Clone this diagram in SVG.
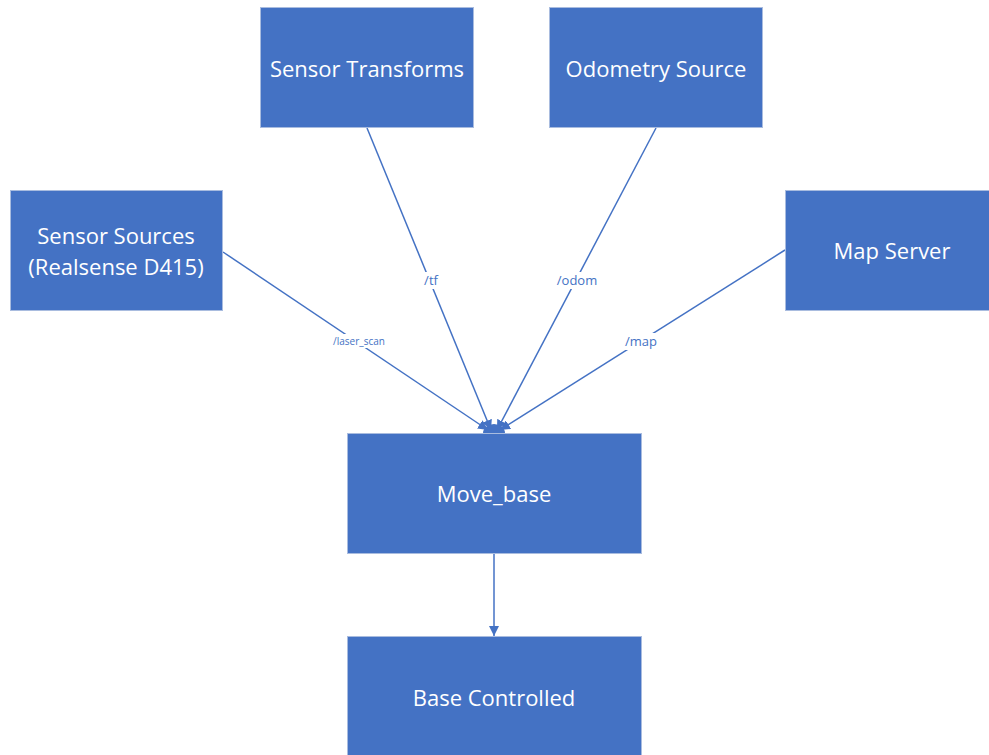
<svg xmlns="http://www.w3.org/2000/svg" width="989" height="755" viewBox="0 0 989 755">
<style>
.box{fill:#4472C4;stroke:#A9BCDF;stroke-width:1}
.t{font-family:"Open Sans","Liberation Sans",sans-serif;font-size:22px;fill:#fff;text-anchor:middle;dominant-baseline:central}
.c{stroke:#4472C4;stroke-width:1.5;fill:none}
.lbl{font-family:"Open Sans","Liberation Sans",sans-serif;fill:#4472C4;text-anchor:middle;dominant-baseline:central}
</style>
<defs>
<marker id="ah" viewBox="0 0 10 10" refX="10" refY="5" markerWidth="10" markerHeight="10" orient="auto" markerUnits="userSpaceOnUse">
<path d="M0,0 L10,5 L0,10 z" fill="#4472C4"/>
</marker>
</defs>
<rect width="989" height="755" fill="#fff"/>
<g id="connectors">
<line class="c" x1="223" y1="252" x2="488" y2="430" marker-end="url(#ah)"/>
<line class="c" x1="367" y1="128" x2="491" y2="430" marker-end="url(#ah)"/>
<line class="c" x1="656" y1="128" x2="497" y2="430" marker-end="url(#ah)"/>
<line class="c" x1="785" y1="250" x2="500" y2="430" marker-end="url(#ah)"/>
<path d="M483,433 A11,9 0 0 1 505,433 Z" fill="#4472C4"/>
<line class="c" x1="494" y1="553" x2="494" y2="636" marker-end="url(#ah)"/>
<rect x="330" y="334" width="60" height="14" fill="#fff"/>
<text class="lbl" x="359" y="341" font-size="10">/laser_scan</text>
<rect x="420" y="272" width="22" height="17" fill="#fff"/>
<text class="lbl" x="431" y="280" font-size="13">/tf</text>
<rect x="556" y="272" width="42" height="17" fill="#fff"/>
<text class="lbl" x="577" y="280" font-size="13">/odom</text>
<rect x="623" y="333" width="36" height="17" fill="#fff"/>
<text class="lbl" x="641" y="341" font-size="13">/map</text>
</g>
<g id="sensor-transforms"><rect class="box" x="260.5" y="7.5" width="213" height="120"/><text class="t" x="367" y="68">Sensor Transforms</text></g>
<g id="odometry-source"><rect class="box" x="549.5" y="7.5" width="213" height="120"/><text class="t" x="656" y="68">Odometry Source</text></g>
<g id="sensor-sources"><rect class="box" x="10.5" y="190.5" width="212" height="120"/><text class="t" x="116" y="235">Sensor Sources</text><text class="t" x="116" y="266">(Realsense D415)</text></g>
<g id="map-server"><rect class="box" x="785.5" y="190.5" width="210" height="120"/><text class="t" x="892" y="250">Map Server</text></g>
<g id="move-base"><rect class="box" x="347.5" y="433.5" width="294" height="120"/><text class="t" x="494" y="493">Move_base</text></g>
<g id="base-controlled"><rect class="box" x="347.5" y="636.5" width="294" height="130"/><text class="t" x="494" y="697">Base Controlled</text></g>
</svg>
